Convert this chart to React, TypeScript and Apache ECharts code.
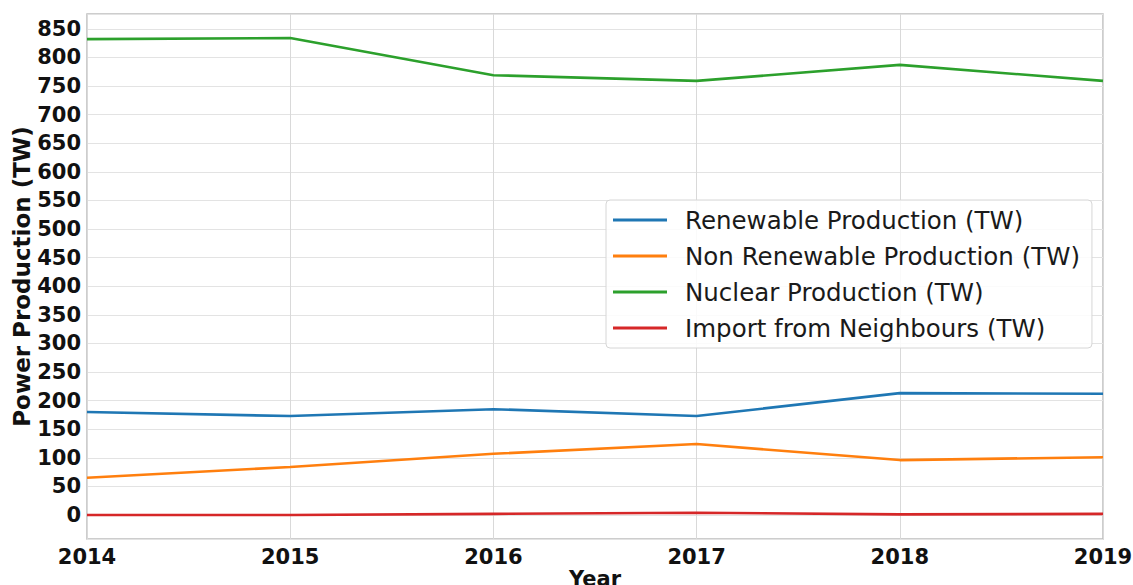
import React, { useEffect, useRef } from "react";
import * as echarts from "echarts";

const years = [2014, 2015, 2016, 2017, 2018, 2019];
const renewable = [180, 173, 185, 173, 213, 212];
const nonRenewable = [65, 84, 107, 124, 96, 101];
const nuclear = [832, 834, 769, 759, 787, 759];
const importNeighbours = [0, 0, 2, 4, 1, 2];

const seriesNames = [
  "Renewable Production (TW)",
  "Non Renewable Production (TW)",
  "Nuclear Production (TW)",
  "Import from Neighbours (TW)",
];
const seriesColors = ["#1f77b4", "#ff7f0e", "#2ca02c", "#d62728"];
const seriesValues = [renewable, nonRenewable, nuclear, importNeighbours];

const FONT = "DejaVu Sans";

export default function App() {
  const ref = useRef<HTMLDivElement>(null);
  useEffect(() => {
    if (!ref.current) return;
    const chart = echarts.init(ref.current, undefined, { renderer: "svg" });
    chart.setOption({
      animation: false,
      backgroundColor: "#ffffff",
      textStyle: { fontFamily: FONT },
      grid: {
        left: 87,
        right: 30,
        top: 14,
        bottom: 46,
        outerBoundsMode: "none",
        containLabel: false,
        show: true,
        borderColor: "#bdbdbd",
        borderWidth: 1.5,
        backgroundColor: "transparent",
      },
      legend: {
        orient: "vertical",
        left: 606,
        top: 200,
        padding: [5, 12, 5, 7],
        itemWidth: 54,
        itemHeight: 3,
        itemGap: 6,
        icon: "rect",
        backgroundColor: "rgba(255,255,255,0.85)",
        borderColor: "#d6d6d6",
        borderWidth: 1,
        borderRadius: 4,
        textStyle: {
          fontFamily: FONT,
          fontSize: 24.5,
          color: "#1a1a1a",
          lineHeight: 30,
          padding: [0, 0, 0, 13],
        },
        data: seriesNames,
      },
      xAxis: {
        type: "value",
        min: 2014,
        max: 2019,
        interval: 1,
        name: "Year",
        nameLocation: "middle",
        nameMoveOverlap: false,
        nameGap: 29,
        nameTextStyle: {
          fontFamily: FONT,
          fontSize: 21,
          fontWeight: "bold",
          color: "#111",
          verticalAlign: "top",
        },
        axisLine: { show: false },
        axisTick: { show: false },
        axisLabel: {
          fontFamily: FONT,
          fontSize: 21,
          fontWeight: "bold",
          color: "#111",
          margin: 7,
          formatter: (v: number) => String(v),
        },
        splitLine: { show: true, lineStyle: { color: "#d9d9d9", width: 1 } },
      },
      yAxis: {
        type: "value",
        min: -42,
        max: 876,
        splitNumber: 18,
        minInterval: 50,
        maxInterval: 50,
        name: "Power Production (TW)",
        nameLocation: "middle",
        nameMoveOverlap: false,
        nameGap: 54,
        nameTextStyle: { fontFamily: FONT, fontSize: 23, fontWeight: "bold", color: "#111" },
        axisLine: { show: false },
        axisTick: { show: false },
        axisLabel: {
          fontFamily: FONT,
          fontSize: 21,
          fontWeight: "bold",
          color: "#111",
          margin: 6,
          showMinLabel: false,
          showMaxLabel: false,
        },
        splitLine: { show: true, lineStyle: { color: "#e3e3e3", width: 1 } },
      },
      series: seriesNames.map((name, i) => ({
        name,
        type: "line",
        data: years.map((y, j) => [y, seriesValues[i][j]]),
        showSymbol: false,
        symbol: "none",
        color: seriesColors[i],
        lineStyle: { color: seriesColors[i], width: 2.6 },
      })),
    });
    return () => chart.dispose();
  }, []);
  return (
    <div
      ref={ref}
      style={{ position: "fixed", left: 0, top: 0, width: 1133, height: 585 }}
    />
  );
}
